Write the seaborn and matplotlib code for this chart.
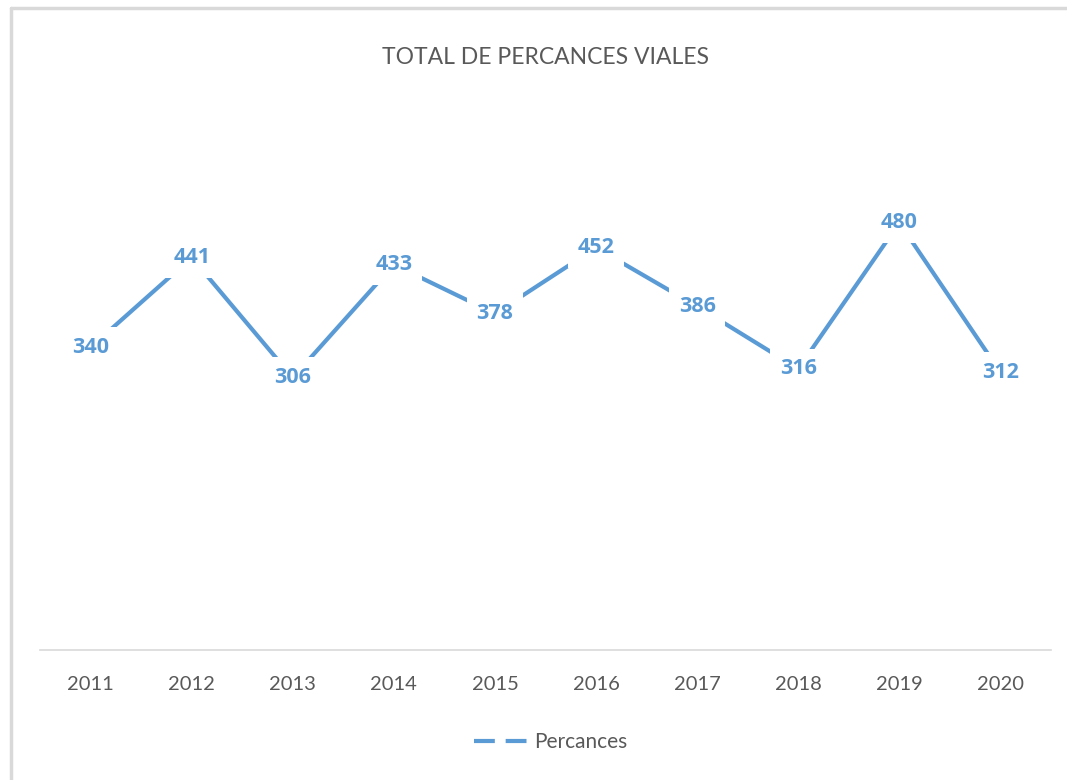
import matplotlib
matplotlib.use("Agg")
import matplotlib.pyplot as plt
import matplotlib.lines as mlines
import seaborn as sns
import pandas as pd

years = ["2011", "2012", "2013", "2014", "2015", "2016", "2017", "2018", "2019", "2020"]
percances = [340, 441, 306, 433, 378, 452, 386, 316, 480, 312]
title = "TOTAL DE PERCANCES VIALES"
series_name = "Percances"

sns.set_theme(style="white")
FONT = ["Lato", "DejaVu Sans"]
plt.rcParams["font.family"] = FONT

LINE = "#5B9BD5"
GREY = "#595959"

df = pd.DataFrame({"pos": range(len(years)), "year": years, "value": percances})

fig = plt.figure(figsize=(10.67, 7.8), dpi=100)
ax = fig.add_axes([40 / 1067, 1 - 650 / 780, (1051 - 40) / 1067, (650 - 116) / 780])

sns.lineplot(data=df, x="pos", y="value", ax=ax, color=LINE, linewidth=3.0,
             solid_capstyle="butt", legend=False, zorder=2)

for x, v in zip(df["pos"], df["value"]):
    ax.text(x, v, str(v), ha="center", va="center", fontsize=15.5, fontweight="bold",
            family=["Open Sans", "DejaVu Sans"], color=LINE, zorder=3,
            bbox=dict(boxstyle="square,pad=0.45", facecolor="white", edgecolor="none"))

ax.set_xlim(-0.5, len(years) - 0.5)
ax.set_ylim(0, 600)
ax.set_xticks(list(df["pos"]))
ax.set_xticklabels(years, fontsize=14.5, color=GREY)
ax.tick_params(axis="x", length=0, pad=19)
ax.set_yticks([])
ax.set_xlabel("")
ax.set_ylabel("")
for s in ["top", "right", "left"]:
    ax.spines[s].set_visible(False)
ax.spines["bottom"].set_color("#D9D9D9")
ax.spines["bottom"].set_linewidth(1.2)

fig.text(546 / 1067, 1 - 57 / 780, title, ha="center", va="center", fontsize=16.5, color=GREY)

handle = mlines.Line2D([], [], color=LINE, linewidth=3.0, linestyle=(0, (5.0, 2.6)))
fig.legend([handle], [series_name], loc="center", bbox_to_anchor=(551 / 1067, 1 - 742 / 780),
           frameon=False, fontsize=15, labelcolor=GREY, handlelength=2.6, handletextpad=0.3)

# outer frame lines (top and left) like the screenshot
fig.add_artist(mlines.Line2D([11 / 1067, 1], [1 - 8 / 780, 1 - 8 / 780], color="#D9D9D9", linewidth=2.5,
                             transform=fig.transFigure))
fig.add_artist(mlines.Line2D([11 / 1067, 11 / 1067], [0, 1 - 8 / 780], color="#D9D9D9", linewidth=2.5,
                             transform=fig.transFigure))

fig.savefig("out.png", dpi=100, facecolor="white")
